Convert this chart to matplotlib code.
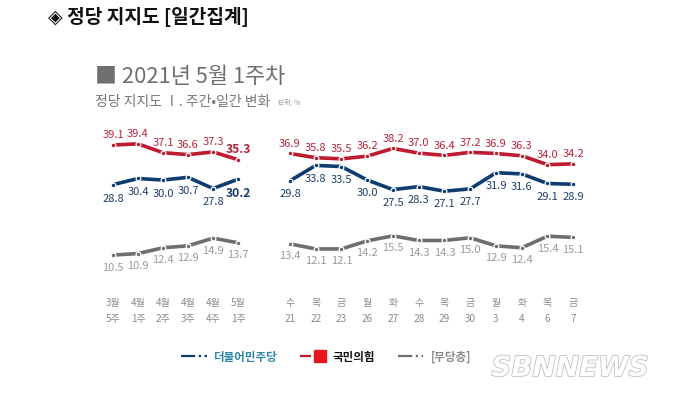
import matplotlib.pyplot as plt
import matplotlib.patheffects as pe
from matplotlib.lines import Line2D
from matplotlib.legend_handler import HandlerTuple

plt.rcParams['font.family'] = ['Noto Sans CJK KR', 'DejaVu Sans']

weeks = ['3월\n5주', '4월\n1주', '4월\n2주', '4월\n3주', '4월\n4주', '5월\n1주']
weekly_ppp = [39.1, 39.4, 37.1, 36.6, 37.3, 35.3]
weekly_dem = [28.8, 30.4, 30.0, 30.7, 27.8, 30.2]
weekly_ind = [10.5, 10.9, 12.4, 12.9, 14.9, 13.7]

days = ['수\n21', '목\n22', '금\n23', '월\n26', '화\n27', '수\n28',
        '목\n29', '금\n30', '월\n3', '화\n4', '목\n6', '금\n7']
daily_ppp = [36.9, 35.8, 35.5, 36.2, 38.2, 37.0, 36.4, 37.2, 36.9, 36.3, 34.0, 34.2]
daily_dem = [29.8, 33.8, 33.5, 30.0, 27.5, 28.3, 27.1, 27.7, 31.9, 31.6, 29.1, 28.9]
daily_ind = [13.4, 12.1, 12.1, 14.2, 15.5, 14.3, 14.3, 15.0, 12.9, 12.4, 15.4, 15.1]

RED, BLUE, GRAY = '#BE1B30', '#0D3C70', '#6E6E6E'
RED_T, BLUE_T, GRAY_T = '#B5253C', '#1D3E6A', '#9A9A9A'

W, H = 680, 397
fig = plt.figure(figsize=(W / 100, H / 100), dpi=100)
fig.patch.set_facecolor('white')

bottom = 1 - 295.5 / H
height = 173.2 / H
axL = fig.add_axes([100.5 / W, bottom, 150 / W, height])
axR = fig.add_axes([277.1 / W, bottom, 309 / W, height])


def draw(ax, labels, series, bold_last):
    x = range(len(labels))
    for vals, col, tcol, dy in series:
        ax.plot(x, vals, color=col, lw=2.6, solid_capstyle='round', zorder=2)
        ax.plot(x, vals, 'o', ms=3.4, color=col, mec='white', mew=0.9, zorder=3)
        for i, v in enumerate(vals):
            last = bold_last and i == len(vals) - 1 and col != GRAY
            ax.annotate(f'{v:.1f}', (i, v), xytext=(0, dy), textcoords='offset points',
                        ha='center', va='center', fontsize=8.8 if last else 8,
                        color=tcol, fontweight='bold' if last else 'normal')
    ax.set_xlim(-0.5, len(labels) - 0.5)
    ax.set_ylim(0, 45)
    ax.set_xticks(list(x))
    ax.set_xticklabels(labels, fontsize=7.2, color='#8A8A8A', linespacing=1.75)
    ax.tick_params(axis='x', length=0, pad=2)
    ax.set_yticks([])
    for s in ax.spines.values():
        s.set_visible(False)
    ax.patch.set_alpha(0)


draw(axL, weeks, [(weekly_ppp, RED, RED_T, 7),
                  (weekly_dem, BLUE, BLUE_T, -10),
                  (weekly_ind, GRAY, GRAY_T, -9)], True)
draw(axR, days, [(daily_ppp, RED, RED_T, 7),
                 (daily_dem, BLUE, BLUE_T, -9.5),
                 (daily_ind, GRAY, GRAY_T, -9)], False)

# header and titles
fig.text(48 / W, 1 - 17 / H, '◈ 정당 지지도 [일간집계]', fontsize=13.8,
         fontweight='bold', color='#111111', va='center')
fig.text(95 / W, 1 - 77 / H, '■ 2021년 5월 1주차', fontsize=15.8,
         color='#6F6F6F', va='center', fontweight='medium')
fig.text(95 / W, 1 - 102 / H, '정당 지지도 Ⅰ. 주간•일간 변화', fontsize=10,
         color='#777777', va='center')
fig.text(278 / W, 1 - 103 / H, '단위: %', fontsize=5, color='#999999', va='center')

# legend
handles = [
    Line2D([], [], color=BLUE, lw=1.6, ls='-.'),
    (Line2D([], [], color=RED, lw=1.6, ls='-.'),
     Line2D([], [], color='#E8141E', marker='s', ms=8, ls='none')),
    Line2D([], [], color=GRAY, lw=1.6, ls='-.'),
]
leg = fig.legend(handles, ['더불어민주당', '국민의힘', '[무당층]'], loc='center',
                 bbox_to_anchor=(326 / W, 1 - 357 / H), ncol=3, frameon=False,
                 handlelength=2.2, handletextpad=0.6, columnspacing=2.0,
                 prop={'weight': 'bold', 'size': 8.3},
                 handler_map={tuple: HandlerTuple(ndivide=None, pad=0.3)})
for txt, c in zip(leg.get_texts(), ['#2A86A8', '#111111', '#8A8A8A']):
    txt.set_color(c)

# watermark
fig.text(570 / W, 1 - 368 / H, 'SBNNEWS', fontsize=20, fontstyle='italic',
         fontweight='bold', color='white', ha='center', va='center',
         family='DejaVu Sans',
         path_effects=[pe.withStroke(linewidth=1.0, foreground='#B5B5B5')])

fig.savefig('out.png', dpi=100, facecolor='white')
